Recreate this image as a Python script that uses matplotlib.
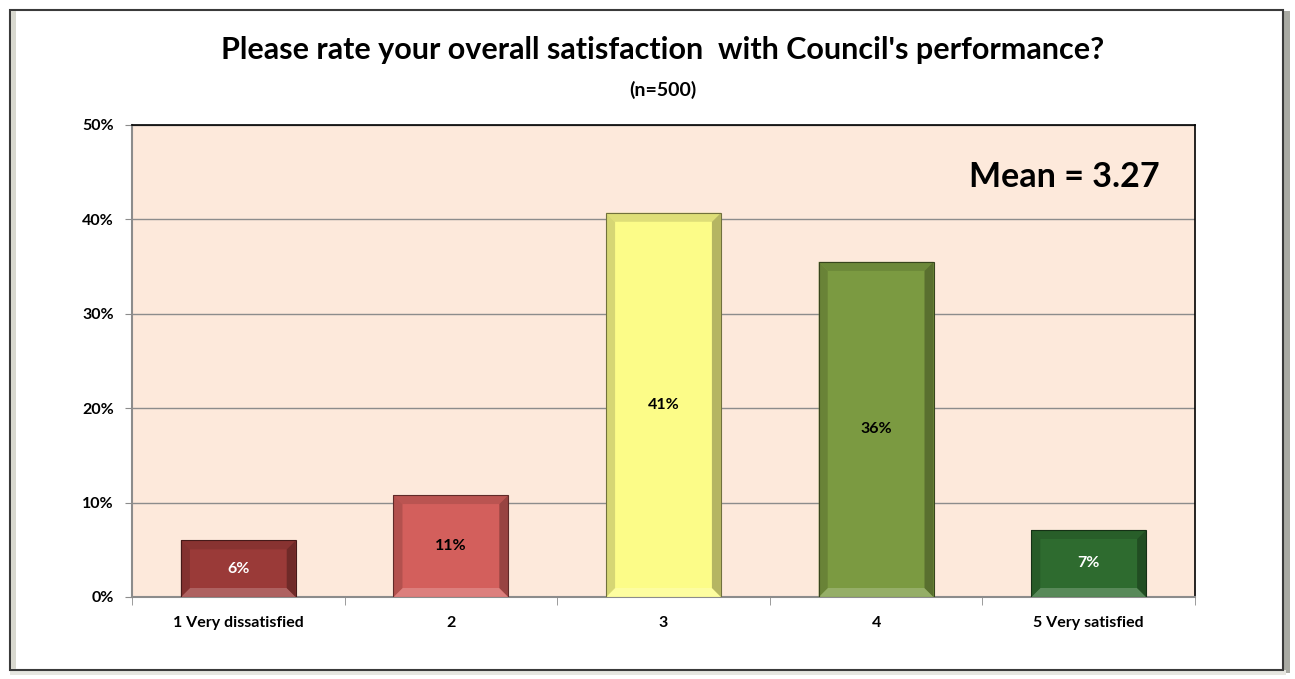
import matplotlib
matplotlib.use("Agg")
import matplotlib.pyplot as plt
from matplotlib.patches import Rectangle, Polygon
import matplotlib.colors as mc
import numpy as np

categories = ["1 Very dissatisfied", "2", "3", "4", "5 Very satisfied"]
values = [6.0, 10.8, 40.7, 35.5, 7.1]
value_labels = ["6%", "11%", "41%", "36%", "7%"]
yticks = [0, 10, 20, 30, 40, 50]
ytick_labels = ["0%", "10%", "20%", "30%", "40%", "50%"]
title = "Please rate your overall satisfaction  with Council's performance?"
subtitle = "(n=500)"
mean_text = "Mean = 3.27"

bar_colors = ["#9a3a38", "#d35f5c", "#fcfc88", "#7b9a41", "#2e6b2f"]
label_colors = ["white", "black", "black", "black", "white"]

plt.rcParams['font.family'] = ['Lato', 'DejaVu Sans']

W, H = 1295, 679
fig = plt.figure(figsize=(W / 100, H / 100), dpi=100)
fig.patch.set_facecolor("white")

# outer frame with shadows
fig.patches.append(Rectangle((1283 / W, 6 / H), 7 / W, 662 / H, transform=fig.transFigure,
                             facecolor="#a9aaa3", edgecolor="none", zorder=-3))
fig.patches.append(Rectangle((10 / W, 4 / H), 1276 / W, 5 / H, transform=fig.transFigure,
                             facecolor="#e6e6e0", edgecolor="none", zorder=-3))
fig.patches.append(Rectangle((10 / W, 9 / H), 1273 / W, 660 / H, transform=fig.transFigure,
                             facecolor="white", edgecolor="#3a3a3a", linewidth=1.5, zorder=-2))
fig.patches.append(Rectangle((11 / W, 10 / H), 5 / W, 658 / H, transform=fig.transFigure,
                             facecolor="#d8d8cf", edgecolor="none", zorder=-1))

ax = fig.add_axes([132 / W, 82 / H, 1063 / W, 472 / H])
ax.set_zorder(2)
ax.set_facecolor("#fde9db")

x = np.arange(len(categories))
bars = ax.bar(x, values, width=0.54, color=bar_colors, edgecolor="none", zorder=3)

ax.set_xlim(-0.5, len(categories) - 0.5)
ax.set_ylim(0, 50)
fig.canvas.draw()

# bevel effect based on each bar's geometry
inv = ax.transData.inverted()
def px_to_data(dx_px, dy_px):
    p0 = inv.transform((0, 0))
    p1 = inv.transform((dx_px, dy_px))
    return p1[0] - p0[0], p1[1] - p0[1]

bx, by = px_to_data(9, 9)

def shade(c, f):
    r, g, b = mc.to_rgb(c)
    if f < 1:
        return (r * f, g * f, b * f)
    return (r + (1 - r) * (f - 1), g + (1 - g) * (f - 1), b + (1 - b) * (f - 1))

for b, c in zip(bars, bar_colors):
    x0, y0 = b.get_x(), b.get_y()
    x1, y1 = x0 + b.get_width(), y0 + b.get_height()
    top = Polygon([(x0, y1), (x1, y1), (x1 - bx, y1 - by), (x0 + bx, y1 - by)],
                  closed=True, facecolor=shade(c, 0.88), edgecolor="none", zorder=4)
    bot = Polygon([(x0, y0), (x1, y0), (x1 - bx, y0 + by), (x0 + bx, y0 + by)],
                  closed=True, facecolor=shade(c, 1.2), edgecolor="none", zorder=4)
    left = Polygon([(x0, y0), (x0, y1), (x0 + bx, y1 - by), (x0 + bx, y0 + by)],
                   closed=True, facecolor=shade(c, 0.85), edgecolor="none", zorder=4)
    right = Polygon([(x1, y0), (x1, y1), (x1 - bx, y1 - by), (x1 - bx, y0 + by)],
                    closed=True, facecolor=shade(c, 0.72), edgecolor="none", zorder=4)
    for p in (top, bot, left, right):
        ax.add_patch(p)
    ax.add_patch(Rectangle((x0, y0), b.get_width(), b.get_height(), facecolor="none",
                           edgecolor=shade(c, 0.45), linewidth=0.8, zorder=5))

for xi, v, lab, lc in zip(x, values, value_labels, label_colors):
    ax.text(xi, v / 2, lab, ha="center", va="center", fontsize=11.5, fontweight="bold",
            color=lc, zorder=6)

ax.set_yticks(yticks)
ax.set_yticklabels(ytick_labels, fontsize=11.5, fontweight="bold")
ax.yaxis.grid(True, color="#8c8c8c", linewidth=1)
ax.set_axisbelow(True)
ax.set_xticks(x)
ax.set_xticklabels(categories, fontsize=11.5, fontweight="bold")
ax.tick_params(axis="x", length=0, pad=14)
ax.tick_params(axis="y", length=5, color="#8c8c8c", pad=8)
ax.set_xticks(np.arange(-0.5, len(categories) + 0.5, 1), minor=True)
ax.tick_params(axis="x", which="minor", length=6, color="#8c8c8c")

for s in ["left", "bottom"]:
    ax.spines[s].set_color("#8c8c8c")
    ax.spines[s].set_linewidth(1.5)
for s in ["top", "right"]:
    ax.spines[s].set_color("black")
    ax.spines[s].set_linewidth(1.2)

ax.text(0.967, 0.89, mean_text, transform=ax.transAxes, ha="right", va="center",
        fontsize=24.5, fontweight="bold", color="black")

fig.text(663 / W, 1 - 50 / H, title, ha="center", va="center", fontsize=22, fontweight="bold")
fig.text(663 / W, 1 - 90 / H, subtitle, ha="center", va="center", fontsize=14, fontweight="bold")

fig.savefig("out.png", dpi=100)
